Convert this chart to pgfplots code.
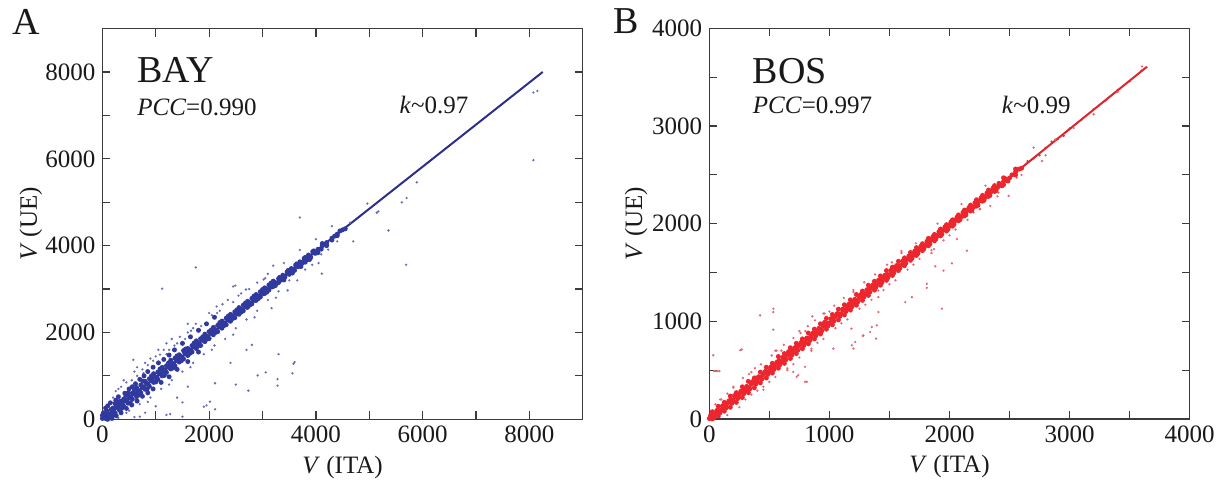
\documentclass[border=0pt]{standalone}
\usepackage{fontspec}
\setmainfont{Liberation Serif}
\usepackage{pgfplots}
\pgfplotsset{compat=1.18}
\definecolor{bayline}{RGB}{45,45,140}
\definecolor{baypt}{RGB}{48,58,158}
\definecolor{bayout}{RGB}{105,110,180}
\definecolor{bosline}{RGB}{222,35,45}
\definecolor{bospt}{RGB}{236,38,44}
\definecolor{bosout}{RGB}{228,105,115}
\definecolor{axisgray}{RGB}{60,60,60}
\definecolor{txt}{RGB}{25,25,25}
\pgfplotsset{
  panel/.style={
    scale only axis, width=240.2pt, height=195.3pt,
    axis line style={axisgray, line width=0.6pt},
    tick style={axisgray, line width=0.6pt},
    tick align=inside, major tick length=4pt, minor tick length=4pt,
    minor x tick num=1, minor y tick num=1,
    scaled ticks=false,
    /pgf/number format/.cd, 1000 sep={}, assume math mode=true, /pgfplots/.cd,
    tick label style={font=\fontsize{12.5}{14}\selectfont, text=txt},
    label style={font=\fontsize{12.5}{14}\selectfont, text=txt},
    xlabel style={at={(axis description cs:0.5,-0.1377)}, anchor=base},
    clip=true,
  },
  core/.style={only marks, mark=*, mark size=1.25pt, mark options={draw opacity=0}},
  outl/.style={only marks, mark=*, mark size=0.65pt, mark options={draw opacity=0}},
}
\begin{document}
\begin{tikzpicture}
\useasboundingbox (0,0) rectangle (615.5pt,242.5pt);
% ---------------- Panel A ----------------
\begin{axis}[panel, at={(51.2pt,32.85pt)}, anchor=south west,
  xmin=0, xmax=9000, ymin=0, ymax=9000,
  xtick={0,2000,4000,6000,8000}, ytick={0,2000,4000,6000,8000},
  xlabel={\textit{V} (ITA)}, ylabel={\textit{V} (UE)},
  ylabel style={at={(axis description cs:-0.1366,0.5)}, anchor=base}]
\addplot[outl, color=bayout] coordinates {
(3700,4650)(1750,3500)(1120,3010)(4700,4100)(4110,3355)(3580,1280)(3600,1320)(3560,1060)
(3060,1080)(2910,1010)(3280,925)(3280,775)(2735,660)(2700,1600)(2800,1715)(2110,830)
(1900,290)(1950,320)(2015,405)(1500,390)(1270,120)(1200,100)(2110,230)(580,1370)(770,1060)
(2450,3060)(2690,2990)(3170,2560)(3470,2970)(3930,3560)(4230,3910)(3200,3540)(3020,3220)
(2490,3080)(2140,2600)(1830,2060)(1660,2040)(1200,1750)(1080,1490)(950,1220)
(8075,7530)(8150,7565)(8075,5970)(5890,5460)(5700,5100)(5610,5000)(5140,4760)(5170,4790)
(5360,4350)(4965,4970)(4640,4530)(5690,3560)
(400,900)(600,1100)(800,1300)(1000,1450)(1300,1850)(1400,1750)(1600,2000)(2000,2450)
(2200,2500)(2350,2750)(2600,2900)(2900,3150)(3100,3350)(3400,3600)(3700,3900)(4000,4150)
(4300,4450)(500,200)(700,350)(900,500)(1100,700)(1300,900)(1500,1100)(1700,1300)(1900,1500)
(2100,1700)(2300,1850)(2500,2100)(2700,2300)(2900,2500)(3100,2750)(3300,2950)(3500,3200)
(3800,3450)(4100,3800)(4400,4100)(300,700)(200,500)(600,50)(800,150)(1000,300)(1400,500)
(1600,750)(2400,1300)(2500,800)(3300,1500)(250,650)(450,850)(650,1000)(850,1250)(1150,1600)
(1450,1900)(1750,2200)(2050,2400)(100,10)(300,30)(700,60)(1500,60)
(550,900)(750,1150)(950,1350)(1250,1600)(1550,1850)(1850,2150)(2150,2450)(2450,2700)
(2750,3000)(3050,3250)(350,750)(650,1200)(900,1400)(1200,1500)(1350,1700)(1700,2100)
(2250,2650)(2550,2850)(1050,1600)(1600,2200)(450,150)(850,400)(1250,800)(1650,1200)
(2050,1600)(2450,1950)(2850,2350)(3250,2800)(3650,3200)(4050,3600)
};
\addplot[core, color=baypt] coordinates {
(0,90)(80,198)(160,225)(240,363)(320,410)(400,468)(480,606)(560,603)(640,731)(720,793)
(800,876)(880,934)(960,1051)(1040,1089)(1120,1196)(1200,1234)(1280,1362)(1360,1409)
(1440,1487)(1520,1584)(1600,1632)(1680,1700)(1760,1807)(1840,1855)(1920,1962)(2000,2020)
(2080,2118)(2160,2165)(2240,2263)(2320,2330)(2400,2418)(2480,2476)(2560,2573)(2640,2631)
(2720,2718)(2800,2786)(2880,2874)(2960,2941)(3040,3029)(3120,3096)(3200,3184)
(40,30)(120,122)(200,188)(280,277)(360,344)(440,432)(520,500)(600,588)(680,655)(760,745)
(840,810)(920,898)(1000,965)(1080,1052)(1160,1122)(1240,1207)(1320,1276)(1400,1362)
(1480,1432)(1560,1518)(1640,1588)(1720,1670)(1800,1742)(1880,1828)(1960,1898)(2040,1982)
(2120,2052)(2200,2138)(2280,2208)(2360,2292)(2440,2362)(2520,2448)(2600,2518)(2680,2602)
(2760,2672)(2840,2758)(2920,2828)(3000,2912)(3080,2982)(3160,3068)(3240,3140)(3320,3222)
(3400,3296)(3480,3378)(3560,3452)(3640,3532)(3720,3606)(3800,3688)(3880,3762)(3960,3842)
(4040,3918)(4120,4000)(4200,4072)(4300,4172)(4400,4266)(4500,4366)
(0,20)(80,10)(160,60)(240,140)(320,210)(400,300)(480,370)(560,460)(640,520)(720,610)
(800,690)(880,760)(960,850)(1040,920)(1120,1000)(1200,1080)(1280,1160)(1360,1230)
(1440,1320)(1520,1390)(1600,1470)(1680,1550)(1760,1630)(1840,1700)(1920,1790)(2000,1860)
(2080,1950)(2160,2020)(2240,2100)(2320,2180)(2400,2260)(2480,2340)(2560,2420)(2640,2500)
(2720,2580)(2800,2660)(2880,2740)(2960,2820)(3040,2900)(3120,2980)(3200,3060)(3300,3150)
(3400,3240)(3500,3340)(3600,3430)(3700,3530)(3800,3620)(3900,3720)(4000,3830)(4100,3920)
(4200,4020)(4300,4130)(4400,4230)(4550,4390)
(20,150)(60,260)(100,310)(150,380)(200,260)(250,440)(300,520)(350,420)(420,600)(500,700)
(560,750)(620,820)(700,920)(780,1000)(850,1100)(950,1200)(1050,1300)(1150,1380)(1250,1480)
(1350,1600)(1500,1750)(1650,1900)(1800,2050)(1950,2200)(2100,2350)
(100,0)(180,20)(260,80)(350,150)(450,250)(550,330)(650,420)(750,530)(850,610)(950,700)
(1100,850)(1250,980)(1400,1150)(1600,1330)(1800,1550)
(40,120)(120,40)(200,100)(280,360)(360,250)(440,550)(520,380)(600,680)(680,560)(760,880)
(840,700)(920,1000)(1000,860)(1080,1160)(1160,1010)(1240,1300)(1320,1180)(1400,1460)
(1480,1350)(1560,1620)(1640,1520)(1720,1760)(1800,1700)(1880,1900)(1960,1850)(2040,2060)
(2120,2000)(2200,2230)(2280,2160)(2360,2380)(2440,2320)(2520,2520)(2600,2470)(2680,2680)
(2760,2630)(2840,2840)(2920,2780)(3000,2990)(3080,2930)(3160,3140)(3240,3080)(3320,3270)
(3400,3210)(3480,3430)(3560,3370)(3640,3580)(3720,3520)(3800,3730)(3880,3680)(3960,3880)
(4040,3840)(4120,4050)(4200,4000)(4350,4220)(4450,4340)
(20,59)(60,23)(100,137)(140,101)(180,215)(220,178)(260,292)(300,256)(340,370)(380,334)
(420,447)(460,411)(500,525)(540,489)(580,603)(620,566)(660,680)(700,644)(740,758)(780,722)
(820,835)(860,799)(900,913)(940,877)(980,991)(1020,954)(1060,1068)(1100,1032)(1140,1146)
(1180,1110)(1220,1223)(1260,1187)(1300,1301)(1340,1265)(1380,1379)(1420,1342)(1460,1456)
(1500,1420)(1540,1534)(1580,1498)(1620,1611)(1660,1575)(1700,1689)(1740,1653)(1780,1767)
(1820,1730)(1860,1844)(1900,1808)(1940,1922)(1980,1886)(2020,1999)(2060,1963)(2100,2077)
(2140,2041)(2180,2155)(2220,2118)(2260,2232)(2300,2196)(2340,2310)(2380,2274)(2420,2387)
(2460,2351)(2500,2465)(2540,2429)(2580,2543)(2620,2506)(2660,2620)(2700,2584)(2740,2698)
(2780,2662)(2820,2775)(2860,2739)(2900,2853)(2940,2817)(2980,2931)(3020,2894)(3060,3008)
(3100,2972)(3140,3086)(3180,3050)(3220,3163)(3260,3127)(3300,3241)(3340,3205)(3380,3319)
(3420,3282)(3460,3396)(3500,3360)(3540,3474)(3580,3438)(3620,3551)(3660,3515)(3700,3629)
(3740,3593)(3780,3707)(3820,3670)(3860,3784)(3900,3748)(3940,3862)(3980,3826)
};
\addplot[bayline, line width=1pt] coordinates {(0,0) (8250,8003)};
\node[anchor=base west, inner sep=0, font=\fontsize{19}{20}\selectfont, text=txt]
  at (axis description cs:0.072,0.861) {BAY};
\node[anchor=base west, inner sep=0, font=\fontsize{12.5}{14}\selectfont, text=txt]
  at (axis description cs:0.072,0.779) {\textit{PCC}=0.990};
\node[anchor=base west, inner sep=0, font=\fontsize{12.5}{14}\selectfont, text=txt]
  at (axis description cs:0.618,0.783) {\textit{k}\textasciitilde0.97};
\end{axis}
% ---------------- Panel B ----------------
\begin{axis}[panel, at={(354.65pt,33.0pt)}, anchor=south west,
  xmin=0, xmax=4000, ymin=0, ymax=4000,
  xtick={0,1000,2000,3000,4000}, ytick={0,1000,2000,3000,4000},
  xlabel={\textit{V} (ITA)}, ylabel={\textit{V} (UE)},
  ylabel style={at={(axis description cs:-0.1398,0.5)}, anchor=base}]
\addplot[outl, color=bosout] coordinates {
(33,653)(40,490)(55,490)(70,490)(85,490)(256,704)(270,712)(423,1061)(533,1129)(533,1095)
(533,915)(858,1051)(797,534)(728,432)(797,381)(812,381)(740,449)(699,483)(1033,721)
(1187,755)(1214,789)(1278,850)(1353,942)(1389,823)(1408,1095)(1631,1197)(1687,1248)
(1811,1384)(1811,1343)(1936,1129)(1950,1520)(2020,1594)(1881,1564)(2062,1843)(1603,1622)
(1520,1604)(1408,1316)(1408,1248)(1183,925)(937,874)(1200,721)(1283,857)(1339,891)(1395,959)
(3603,3611)(3033,2981)(2881,2863)(2770,2642)(2561,2471)(2492,2285)(2408,2318)(2339,2183)
(2256,2149)(2200,2115)(2145,1724)(1850,1700)(1870,1740)
(100,200)(200,330)(300,200)(400,290)(500,380)(600,700)(700,560)(800,900)(900,780)(1000,1100)
(1100,980)(1200,1320)(1300,1170)(1500,1380)(1600,1720)(1700,1580)(1900,2000)(2000,1880)
(2100,2200)(2300,2390)(2400,2280)(2600,2500)(2700,2780)(2800,2700)(2950,2900)(3200,3120)
(3400,3350)(50,150)(150,40)(250,120)(350,480)(450,300)(550,700)(650,500)(750,900)(850,700)
(950,1080)
(280,420)(330,460)(380,520)(430,560)(520,650)(560,700)(620,760)(700,830)(760,880)(820,950)
(880,1010)(960,1080)(1040,1160)(1120,1240)(1200,1300)(1290,1400)(1380,1480)(1480,1580)
(1600,1700)(1720,1800)(150,260)(200,320)(90,200)
(350,250)(450,330)(550,430)(650,520)(750,630)(850,720)(950,820)(1050,930)(1150,1020)
(1250,1130)(1350,1220)(1450,1320)(1550,1420)(1650,1530)(1750,1640)(1850,1730)(1950,1830)
(2050,1940)(2150,2040)(2250,2150)
};
\addplot[core, color=bospt] coordinates {
(0,5)(50,60)(100,92)(150,160)(200,190)(250,256)(300,290)(350,358)(400,388)(450,455)
(500,488)(550,556)(600,585)(650,655)(700,686)(750,752)(800,784)(850,853)(900,882)(950,950)
(1000,982)(1050,1050)(1100,1080)(1150,1148)(1200,1180)(1250,1246)(1300,1280)(1350,1345)
(1400,1378)(1450,1444)(1500,1478)(1550,1542)(1600,1578)(1650,1640)(1700,1676)(1750,1740)
(1800,1775)(1850,1838)(1900,1874)(1950,1938)(2000,1973)(2050,2036)(2100,2072)(2150,2136)
(2200,2170)(2250,2234)(2300,2270)(2350,2332)(2400,2370)(2450,2432)(2500,2468)(2550,2530)
(2600,2568)
(25,75)(75,130)(125,170)(175,235)(225,270)(275,330)(325,385)(375,420)(425,480)(475,530)
(525,570)(575,640)(625,670)(675,730)(725,775)(775,820)(825,880)(875,920)(925,975)(975,1030)
(1025,1070)(1075,1125)(1125,1170)(1175,1220)(1225,1275)(1275,1310)(1325,1370)(1375,1410)
(1425,1465)(1475,1520)(1525,1555)(1575,1615)(1625,1650)(1675,1705)(1725,1755)(1775,1795)
(1825,1850)(1875,1890)(1925,1945)(1975,1990)(2025,2040)(2075,2090)(2125,2140)(2175,2190)
(2225,2245)(2275,2290)(2325,2345)(2375,2390)(2450,2470)(2550,2560)
(25,0)(75,30)(125,80)(175,120)(225,170)(275,220)(325,270)(375,320)(425,370)(475,420)
(525,470)(575,520)(625,570)(675,620)(725,670)(775,720)(825,770)(875,820)(925,870)(975,920)
(1025,965)(1075,1015)(1125,1065)(1175,1115)(1225,1165)(1275,1215)(1325,1265)(1375,1320)
(1425,1370)(1475,1420)(1525,1470)(1575,1520)(1625,1570)(1675,1625)(1725,1675)(1775,1725)
(1825,1775)(1875,1825)(1925,1875)(1975,1925)(2025,1975)(2075,2030)(2125,2080)(2175,2130)
(2225,2180)(2275,2230)(2325,2280)(2375,2330)(2450,2400)(2550,2500)
(10,30)(40,20)(70,90)(110,130)(140,120)(180,200)(210,240)(240,230)(290,310)(320,300)
(360,380)(390,420)(430,430)(470,490)(510,520)(540,530)(580,600)(620,610)(660,690)(690,700)
(730,740)(770,790)(810,820)(840,830)(880,900)(920,920)(960,990)(990,980)(1030,1030)
(1070,1080)(1110,1120)(1140,1120)(1180,1200)(1220,1210)(1260,1270)(1290,1280)(1330,1330)
(1370,1370)(1410,1420)(1440,1430)(1480,1480)(1520,1510)(1560,1570)(1590,1570)(1630,1620)
(1670,1660)(1710,1710)(1740,1720)(1780,1780)(1820,1800)(1860,1850)(1890,1880)(1930,1920)
(1970,1960)(2010,2000)(2040,2020)(2080,2070)(2120,2100)(2160,2150)(2190,2170)(2230,2210)
(2270,2250)(2310,2290)(2340,2320)(2380,2360)(2420,2400)(2480,2450)(2520,2500)(2580,2560)
(12,37)(37,12)(62,86)(87,61)(112,136)(137,111)(162,185)(187,160)(212,235)(237,210)
(262,284)(287,259)(312,334)(337,309)(362,383)(387,358)(412,433)(437,408)(462,482)(487,457)
(512,532)(537,507)(562,581)(587,556)(612,631)(637,606)(662,680)(687,655)(712,730)(737,705)
(762,779)(787,754)(812,829)(837,804)(862,878)(887,853)(912,928)(937,903)(962,977)(987,952)
(1012,1027)(1037,1002)(1062,1076)(1087,1051)(1112,1126)(1137,1101)(1162,1175)(1187,1150)
(1212,1225)(1237,1200)(1262,1274)(1287,1249)(1312,1324)(1337,1299)(1362,1373)(1387,1348)
(1412,1423)(1437,1398)(1462,1472)(1487,1447)(1512,1522)(1537,1497)(1562,1571)(1587,1546)
(1612,1621)(1637,1596)(1662,1670)(1687,1645)(1712,1720)(1737,1695)(1762,1769)(1787,1744)
(1812,1819)(1837,1794)(1862,1868)(1887,1843)(1912,1918)(1937,1893)(1962,1967)(1987,1942)
(2012,2017)(2037,1992)(2062,2066)(2087,2041)(2112,2116)(2137,2091)(2162,2165)(2187,2140)
(2212,2215)(2237,2190)(2262,2264)(2287,2239)(2312,2314)(2337,2289)(2362,2363)(2387,2338)
(2412,2413)(2437,2388)(2462,2462)(2487,2437)
};
\addplot[outl, color=bospt] coordinates {
(2700,2668)(2800,2776)(2900,2866)(3000,2975)(3100,3064)(3200,3172)(3300,3262)(3400,3370)
(3500,3460)(3600,3568)(2650,2640)(2750,2700)(2850,2840)(2950,2900)
};
\addplot[bosline, line width=1pt] coordinates {(0,0) (3645,3608)};
\node[anchor=base west, inner sep=0, font=\fontsize{19}{20}\selectfont, text=txt]
  at (axis description cs:0.090,0.860) {BOS};
\node[anchor=base west, inner sep=0, font=\fontsize{12.5}{14}\selectfont, text=txt]
  at (axis description cs:0.090,0.782) {\textit{PCC}=0.997};
\node[anchor=base west, inner sep=0, font=\fontsize{12.5}{14}\selectfont, text=txt]
  at (axis description cs:0.608,0.782) {\textit{k}\textasciitilde0.99};
\end{axis}
\node[anchor=base west, inner sep=0, font=\fontsize{19}{20}\selectfont, text=txt] at (5.85pt,225pt) {A};
\node[anchor=base west, inner sep=0, font=\fontsize{19}{20}\selectfont, text=txt] at (306.7pt,225.8pt) {B};
\end{tikzpicture}
\end{document}
